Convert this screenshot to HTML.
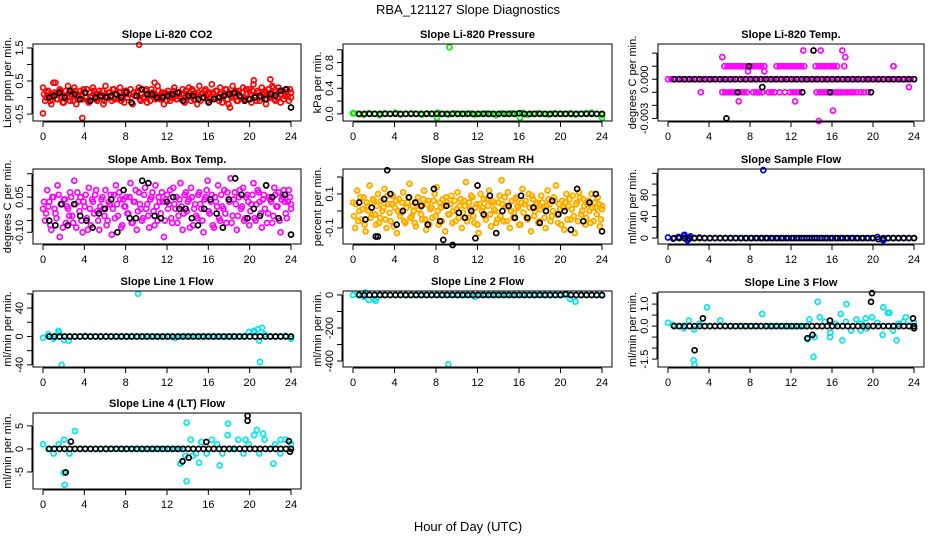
<!DOCTYPE html>
<html><head><meta charset="utf-8">
<style>
html,body{margin:0;padding:0;background:#fff;}
svg{display:block;font-family:"Liberation Sans",sans-serif;}
</style></head>
<body>
<svg id="chart" width="936" height="540" viewBox="0 0 936 540" xmlns="http://www.w3.org/2000/svg">
<rect x="0" y="0" width="936" height="540" fill="#fff"/>
<text x="468" y="14" text-anchor="middle" font-size="13">RBA_121127  Slope Diagnostics</text>
<text x="468" y="531" text-anchor="middle" font-size="13">Hour of Day (UTC)</text>
</svg>
<script>
const xTicks = [0,4,8,12,16,20,24];
const xTickLabels = ["0","4","8","12","16","20","24"];

const co2Color = [0.3,-0.1,0.15,0.05,-0.2,0.45,0.1,-0.05,0.25,0.0,-0.15,0.2,0.35,-0.1,0.1,0.3,-0.2,0.05,0.2,-0.05,0.15,0.25,-0.15,0.0,0.3,0.1,-0.1,0.2,0.05,-0.2,0.35,0.0,0.15,-0.1,0.25,0.1,-0.05,0.3,0.0,-0.15,0.2,0.1,0.25,-0.2,0.05,0.15,0.3,-0.1,0.0,0.2,-0.15,0.1,0.25,0.05,-0.05,0.35,0.0,0.15,-0.2,0.1,0.2,-0.1,0.05,0.3,-0.05,0.15,0.0,0.25,-0.15,0.1,0.3,-0.1,0.2,0.05,-0.2,0.35,0.1,0.0,0.25,-0.1,0.15,0.4,-0.05,0.2,0.0,0.3,-0.15,0.1,0.25,-0.2,0.05,0.35,0.15,-0.1,0.2,0.0,0.3,-0.05,0.1,0.25,-0.15,0.4,0.05,0.2,-0.1,0.3,0.15,-0.2,0.25,0.0,0.35,-0.05,0.1,0.3,-0.15,0.2,0.05,0.25,-0.1,0.15];
const co2Color2 = [0.1,0.0,0.2,-0.1,0.05,0.15,-0.05,0.1,0.2,-0.15,0.05,0.0,0.15,0.1,-0.1,0.2,0.05,-0.05,0.1,0.25,0.0,-0.1,0.15,0.05,0.2,-0.05,0.1,0.0,0.2,-0.1,0.05,0.15,0.0,0.25,-0.05,0.1,0.15,-0.1,0.05,0.2,0.0,0.1,-0.15,0.15,0.05,0.2,-0.05,0.1,0.0,0.25,0.05,-0.1,0.15,0.1,0.0,0.2,-0.05,0.05,0.15,-0.1,0.1,0.0,0.2,0.05,-0.05,0.15,0.1,-0.1,0.2,0.0,0.05,0.25,-0.05,0.1,0.15,-0.1,0.0,0.2,0.05,0.1,-0.05,0.15,0.0,0.2,-0.1,0.1,0.05,0.25,-0.05,0.15,0.0,0.1,0.2,-0.1,0.05,0.15,0.0,0.25,-0.05,0.1,0.2,0.05,-0.1,0.15,0.0,0.1,0.2,-0.05,0.05,0.15,0.3,-0.1,0.0,0.2,0.1,-0.05,0.15,0.05,0.25,0.0];
const co2Extra = [[9.3,1.6],[3.8,-0.62],[0,-0.48],[20.4,0.52],[22,0.55],[10.8,0.45],[18.1,-0.3],[1.2,0.45]];
const co2Black = [0.0,0.05,0.15,0.0,0.2,0.1,-0.05,0.15,-0.1,0.0,0.05,0.0,0.05,0.1,0.0,0.15,-0.15,0.05,0.25,0.1,0.1,0.0,0.0,0.05,0.1,0.15,-0.1,0.05,0.05,-0.05,0.0,-0.15,-0.05,0.0,0.05,0.1,0.15,0.05,-0.1,-0.05,0.0,0.05,-0.05,0.1,0.05,0.2,0.25,-0.3];

const presColor = [0.01,0,-0.01,0.01,0,-0.02,0.01,0,0.02,-0.01,0,0.01,0,-0.01,0.01,0,0.02,0,-0.01,0.01,0,0,0.01,-0.01,0,0.01,0,-0.02,0.01,0,0.01,0,0.02,-0.01,0,0.01,0,-0.01,0.01,0,0,0.01,-0.01,0,0.01,0.02,0,-0.01];
const presExtra = [[9.3,1.04],[8.1,-0.06],[16.1,-0.06],[24,-0.06],[0.1,0.01]];
const presBlack = [0,0,0,0,0,0,0,0,0,0,0,0,0,0,0,0,0,0,0,0,0,0,0,0,0,0,0,0,0,0,0,0.01,0,0,0,0,0,0,0,0,0,0,0,0,0,0,0,0];

const tempLevels = [0.001,-0.001];
const tempUpT = [5.5,5.8,6.1,6.4,6.7,7.0,7.3,7.6,8.2,8.5,8.8,9.1,9.4,10.6,10.9,11.2,11.5,11.8,12.1,12.4,12.7,13.0,13.3,14.4,14.7,15.0,15.3,15.6,15.9,16.2,16.5,17.2,22.0];
const tempDnT = [3.2,5.3,5.6,5.9,6.2,6.5,7.1,7.4,7.7,8.3,8.6,8.9,9.2,9.8,10.1,10.4,10.9,11.4,11.9,12.2,12.5,12.8,14.5,14.8,15.1,15.4,15.7,16.0,16.3,16.6,16.9,17.2,17.5,17.8,18.1,18.4,18.8,19.1,19.5];
const tempZeroColor = [0,0,0,0,0,0,0,0,0,0,0,0,0,0,0,0,0,0,0,0,0,0,0,0,0,0,0,0,0,0,0,0,0,0,0,0,0,0,0,0,0,0,0,0,0,0,0,0,0,0,0,0,0,0,0,0,0,0,0,0,0,0,0,0,0,0,0,0,0,0,0,0,0];
const tempExtra = [[5.3,0.0017],[7.8,0.0006],[9.4,0.0006],[13.2,0.0022],[14.9,0.0022],[17,0.0022],[17.3,0.0017],[22,0.001],[23.5,-0.0006],[6.9,-0.0017],[12.4,-0.0017],[16.1,-0.0024],[14.7,-0.0032]];
const tempBlack = [0,0,0,0,0,0,0,0,0,0,0,0,0,0,0,0,0,0,0,0,0,0,0,0,0,0,0,0,0,0,0,0,0,0,0,0,0,0,0,0,0,0,0,0,0,0,0,0];
const tempBlackExtra = [[7.9,0.001],[9.2,-0.0006],[6.8,-0.001],[13.1,-0.001],[15.8,-0.001],[19.8,-0.001],[14.2,0.0022],[5.7,-0.003]];

const ambColor = [0.0,-0.05,0.08,0.03,-0.09,0.05,-0.02,0.1,-0.12,0.02,0.04,-0.06,0.0,0.07,-0.03,0.12,-0.08,0.03,0.05,-0.1,0.01,-0.04,0.09,-0.07,0.03,0.06,-0.01,-0.09,0.04,0.0,0.08,-0.05,0.02,-0.11,0.06,0.1,-0.03,0.04,-0.07,0.01,0.05,-0.02,0.11,-0.06,0.03,-0.09,0.07,0.0,-0.04,0.09,0.02,-0.08,0.05,-0.01,0.1,-0.05,0.03,0.07,-0.12,0.04,0.0,0.08,-0.06,0.02,0.05,-0.03,0.11,-0.09,0.06,-0.01,0.04,0.09,-0.07,0.02,-0.04,0.07,0.0,-0.1,0.05,0.12,-0.02,0.06,-0.08,0.03,0.1,-0.05,0.01,0.08,-0.06,0.04,0.13,-0.03,0.07,-0.09,0.05,0.0,0.09,-0.04,0.06,-0.07,0.02,0.11,-0.05,0.08,0.03,-0.08,0.06,0.1,-0.02,0.04,-0.06,0.09,0.01,0.07,-0.1,0.05,0.03,-0.04,0.08,0.02];
const ambColor2 = [0.03,-0.02,0.01,-0.07,0.05,0.0,-0.04,0.06,0.02,-0.08,0.04,0.01,-0.03,0.05,-0.06,0.02,0.07,-0.01,-0.05,0.03,0.06,-0.09,0.0,0.04,-0.02,0.08,-0.05,0.01,0.05,-0.03,-0.07,0.03,0.06,0.0,-0.04,0.02,0.07,-0.08,0.04,0.01,-0.02,0.05,-0.06,0.03,0.08,-0.01,0.02,-0.05,0.06,0.0,-0.03,0.04,0.07,-0.07,0.01,0.05,-0.02,0.03,-0.05,0.06,0.02,-0.04,0.09,0.0,-0.06,0.04,0.01,-0.02,0.07,0.03,-0.08,0.05,0.0,-0.03,0.06,0.02,-0.05,0.04,0.08,-0.01,0.03,-0.07,0.05,0.01,-0.04,0.06,0.0,-0.02,0.07,0.03,-0.06,0.04,0.02,-0.03,0.08,0.01,-0.05,0.05,0.03,-0.01,0.06,-0.04,0.02,0.07,-0.02,0.04,0.0,-0.06,0.05,0.03,-0.03,0.06,0.01,-0.05,0.04,0.08,-0.02,0.03,0.05,0.0];
const ambBlack = [-0.05,-0.07,0.02,-0.07,0.02,-0.03,-0.05,-0.08,-0.02,0.0,0.04,-0.1,0.08,-0.04,-0.04,0.12,0.11,-0.03,-0.04,0.03,0.05,0.0,0.0,-0.04,-0.07,0.0,0.04,-0.02,-0.08,0.04,0.13,0.06,-0.04,0.0,-0.03,0.1,0.05,-0.04,0.06,-0.11];

const rhColor = [0.05,-0.1,0.12,0.0,-0.05,0.08,-0.12,0.03,0.15,-0.02,0.06,-0.08,0.1,-0.04,0.0,0.13,-0.1,0.04,-0.06,0.09,0.02,-0.13,0.07,-0.01,0.11,-0.07,0.05,0.16,-0.03,0.0,-0.09,0.08,0.03,-0.05,0.12,-0.11,0.06,0.01,-0.04,0.1,0.14,-0.08,0.02,0.07,-0.12,0.05,-0.02,0.09,0.0,-0.06,0.11,0.03,-0.1,0.06,0.17,-0.04,0.01,0.08,-0.07,0.04,-0.13,0.1,0.02,-0.03,0.07,0.12,-0.09,0.05,0.0,-0.05,0.09,0.18,-0.06,0.03,0.11,-0.1,0.06,-0.01,0.08,0.02,-0.08,0.13,0.04,-0.04,0.1,-0.12,0.07,0.0,0.05,-0.06,0.09,0.02,-0.1,0.12,0.04,-0.03,0.08,0.15,-0.07,0.01,0.06,-0.11,0.1,0.03,-0.05,0.09,-0.13,0.05,0.11,-0.02,0.07,-0.08,0.04,0.0,0.1,-0.06,0.02,0.08,-0.09,0.03];
const rhColor2 = [-0.03,0.04,-0.06,0.08,0.01,-0.08,0.05,0.0,-0.04,0.07,-0.02,0.03,-0.07,0.06,0.02,-0.05,0.09,-0.01,0.04,-0.09,0.06,0.0,-0.03,0.05,-0.06,0.02,0.08,-0.04,0.03,-0.07,0.05,0.01,-0.02,0.07,-0.05,0.04,-0.08,0.02,0.06,-0.03,0.0,0.05,-0.06,0.03,0.08,-0.02,0.04,-0.07,0.06,0.01,-0.04,0.07,-0.01,0.03,-0.06,0.05,0.09,-0.03,0.02,-0.08,0.04,0.0,0.07,-0.05,0.03,-0.02,0.06,0.01,-0.07,0.05,-0.03,0.04,0.08,-0.06,0.02,0.0,-0.04,0.07,0.03,-0.08,0.05,-0.01,0.06,-0.05,0.02,0.09,-0.03,0.04,-0.07,0.01,0.05,-0.04,0.03,0.07,-0.06,0.0,0.06,-0.02,0.04,-0.08,0.02,0.05,-0.05,0.07,0.01,-0.03,0.04,-0.06,0.08,0.0,0.03,-0.04,0.06,-0.07,0.02,0.05,-0.02,0.04,-0.05,0.01];
const rhBlack = [0.05,-0.05,0.02,-0.15,0.07,0.1,-0.08,0.0,0.08,0.05,0.03,-0.08,0.13,-0.06,0.03,-0.2,-0.01,-0.04,0.0,0.15,-0.02,0.09,-0.13,0.0,0.03,-0.04,0.09,-0.04,0.02,-0.07,0.0,0.06,-0.02,0.0,-0.11,0.13,-0.06,0.05,0.1,-0.12];
const rhBlackExtra = [[3.3,0.24],[8.7,-0.17],[11.8,-0.16],[2.2,-0.15]];

const flowColor = [1,-1,2,4,-2,0,1,0,0,0,0,0,0,0,0,0,0,0,0,0,0,0,0,0,0,0,0,0,0,0,0,0,0,0,0,0,0,0,0,0,2,-3,0,0,0,0,0,0];
const flowExtra = [[9.3,126],[1.6,6],[1.9,-4],[21,-4],[2.2,3]];
const flowBlack = [0,0,0,0,0,0,0,0,0,0,0,0,0,0,0,0,0,0,0,0,0,0,0,0,0,0,0,0,0,0,0,0,0,0,0,0,0,0,0,0,-2,0,0,0,0,0,0,0];

const line1Color = [-2,3,-3,5,-5,0,0,0,1,0,0,0,0,0,0,0,0,0,0,0,0,0,0,0,0,-2,0,0,0,0,0,0,0,0,0,0,0,0,0,6,8,-6,3,0,0,0,1,-3];
const line1Extra = [[9.2,60],[1.8,-40],[21,-36],[21.2,12],[20.8,10],[1.5,8],[20.5,6],[2.5,-6]];
const line1Black = [0,0,0,0,0,0,0,0,0,0,0,0,0,0,0,0,0,0,0,0,0,0,0,0,0,0,0,0,0,0,0,0,0,0,0,0,0,0,0,0,0,0,0,0,0,0,0,0];

const line2Color = [0,5,-10,-30,-25,0,0,0,0,0,0,0,0,0,0,0,0,0,0,0,0,0,0,-10,0,0,0,0,0,0,0,0,0,0,0,0,0,0,0,0,0,-25,-40,0,0,0,0,-5];
const line2Extra = [[9.2,-420],[2.2,-35],[1.2,15]];
const line2Black = [0,0,0,0,0,0,0,0,0,0,0,0,0,0,0,0,0,0,0,0,0,0,0,0,0,0,0,0,0,0,0,0,0,0,0,0,0,0,0,0,5,0,0,0,0,0,0,0];

const line3Color = [0.15,0.05,0.0,-0.1,0.25,-0.15,0.1,0.0,0.0,0.0,0.25,0.0,0.0,0.0,0.0,0.0,0.0,0.0,0.55,0.0,0.0,0.0,0.0,0.0,0.0,0.0,0.0,0.3,-0.5,0.4,0.2,-0.3,0.1,0.55,0.2,-0.2,0.3,0.1,-0.1,0.4,0.15,-0.4,0.6,-0.2,0.1,0.2,0.0,0.15];
const line3Extra = [[2.6,-1.75],[2.5,-1.55],[14.6,1.1],[14.2,-1.4],[3.8,0.85],[17.4,1.0],[13.6,-0.6],[15.8,-0.5],[17,-0.65],[21,0.85],[21.6,0.6],[22.3,-0.65],[23.2,0.4],[19.3,0.35],[18.8,-0.2]];
const line3Black = [0,0,0,0,0,0,0,0,0,0,0,0,0,0,0,0,0,0,0,0,0,0,0,0,0,0,0,0,0,0,0,0,0,0,0,0,0,0,0,0,0,0,0,0,0,0,0,0];
const line3BlackExtra = [[2.6,-1.1],[3.4,0.35],[13.6,-0.55],[14.1,-0.4],[15.8,0.25],[19.8,1.1],[19.9,1.5],[23.9,0.35],[24,-0.1]];

const line4Color = [1,0,-1,1,2,-1,0,0,0,0,0,0,0,0,0,0,0,0,0,0,0,0,0,0,0,0,0,-1.5,2,-1,1.5,-1,2,1,-1,3,0,2,-1,1,3,-1,2,0,1,-1,2,1];
const line4Extra = [[2.1,-7.8],[2,-5.2],[13.9,5.7],[13.9,-7],[3.1,3.9],[17.9,5.5],[13.3,-3.2],[15.1,-3],[17.1,-3.6],[20.7,4.1],[21.3,3.3],[22.3,-3.2],[23,2],[19.6,2],[14.5,-1.5]];
const line4Black = [0,0,0,0,0,0,0,0,0,0,0,0,0,0,0,0,0,0,0,0,0,0,0,0,0,0,0,0,0,0,0,0,0,0,0,0,0,0,0,0,0,0,0,0,0,0,0,0];
const line4BlackExtra = [[2.2,-5.1],[2.7,1.6],[13.5,-2.7],[14.1,-1.9],[15.8,1.5],[19.8,6.1],[19.8,7.2],[23.8,1.7],[23.9,-0.6]];

const panels = [
 {name:"co2",title:"Slope Li-820 CO2",ylab:"Licor ppm per min.",color:"#ff0000",box:[33,44,301,121],ymin:-0.71,ymax:1.62,ticks:[-0.5,0,0.5,1,1.5],labels:["-0.5","","0.5","","1.5"],series:[co2Color,co2Color2],extra:co2Extra,black:co2Black,blackExtra:[]},
 {name:"pressure",title:"Slope Li-820 Pressure",ylab:"kPa per min.",color:"#00ee00",box:[343,44,612,121],ymin:-0.11,ymax:1.09,ticks:[0,0.2,0.4,0.6,0.8,1.0],labels:["0.0","","0.4","","0.8",""],series:[presColor],extra:presExtra,black:presBlack,blackExtra:[]},
 {name:"temp",title:"Slope Li-820 Temp.",ylab:"degrees C per min.",color:"#ff00ff",box:[658,44,924,121],ymin:-0.0032,ymax:0.0027,ticks:[-0.003,-0.002,-0.001,0,0.001,0.002],labels:["-0.003","","","0.000","",""],series:[tempZeroColor],extra:tempExtra,black:tempBlack,blackExtra:tempBlackExtra,levels:true},
 {name:"amb-box",title:"Slope Amb. Box Temp.",ylab:"degrees C per min.",color:"#ff00ff",box:[33,169,301,244],ymin:-0.15,ymax:0.17,ticks:[-0.1,-0.05,0,0.05,0.1,0.15],labels:["-0.10","","","0.05","",""],series:[ambColor,ambColor2],extra:[],black:ambBlack,blackExtra:[]},
 {name:"rh",title:"Slope Gas Stream RH",ylab:"percent per min.",color:"#ffa500",fill:"rgba(255,230,0,0.5)",box:[343,169,612,244],ymin:-0.194,ymax:0.247,ticks:[-0.1,0,0.1,0.2],labels:["-0.1","","0.1",""],series:[rhColor,rhColor2],extra:[],black:rhBlack,blackExtra:rhBlackExtra},
 {name:"sample-flow",title:"Slope Sample Flow",ylab:"ml/min per min.",color:"#0000ff",box:[658,169,924,244],ymin:-11,ymax:128,ticks:[0,20,40,60,80,100,120],labels:["0","","40","","80","",""],series:[flowColor],extra:flowExtra,black:flowBlack,blackExtra:[]},
 {name:"line1-flow",title:"Slope Line 1 Flow",ylab:"ml/min per min.",color:"#00e5ee",box:[33,291,301,367],ymin:-43,ymax:64,ticks:[-40,-20,0,20,40,60],labels:["-40","","0","","40",""],series:[line1Color],extra:line1Extra,black:line1Black,blackExtra:[]},
 {name:"line2-flow",title:"Slope Line 2 Flow",ylab:"ml/min per min.",color:"#00e5ee",box:[343,291,612,367],ymin:-436,ymax:24,ticks:[-400,-300,-200,-100,0],labels:["-400","","-200","","0"],series:[line2Color],extra:line2Extra,black:line2Black,blackExtra:[]},
 {name:"line3-flow",title:"Slope Line 3 Flow",ylab:"ml/min per min.",color:"#00e5ee",box:[658,292,924,367],ymin:-1.86,ymax:1.55,ticks:[-1.5,-1,-0.5,0,0.5,1,1.5],labels:["-1.5","","","0.0","","1.0",""],series:[line3Color],extra:line3Extra,black:line3Black,blackExtra:line3BlackExtra},
 {name:"line4-flow",title:"Slope Line 4 (LT) Flow",ylab:"ml/min per min.",color:"#00e5ee",box:[33,413,301,489],ymin:-8.7,ymax:7.8,ticks:[-5,0,5],labels:["-5","0","5"],series:[line4Color],extra:line4Extra,black:line4Black,blackExtra:line4BlackExtra}
];

const NS="http://www.w3.org/2000/svg";
const svg=document.getElementById('chart');
function mk(tag,attrs,parent){const e=document.createElementNS(NS,tag);for(const k in attrs)e.setAttribute(k,attrs[k]);parent.appendChild(e);return e;}

panels.forEach(p=>{
  const [x0,y0,x1,y1]=p.box;
  const g=mk('g',{},svg);
  
  
  const xs=t=>x0+10+(t/24)*(x1-x0-20);
  const ys=v=>y1-(v-p.ymin)/(p.ymax-p.ymin)*(y1-y0);
  const t=mk('text',{x:(x0+x1)/2,y:y0-6,'text-anchor':'middle','font-size':11,'font-weight':'bold'},g);
  t.textContent=p.title;
  
  
  const yl=mk('text',{x:x0-22,y:(y0+y1)/2,'text-anchor':'middle','font-size':11,transform:`rotate(-90 ${x0-22} ${(y0+y1)/2})`},g);
  yl.textContent=p.ylab;
  
  
  const plot=mk('g',{},g);
  
  
  const dot=(tt,v,col,fill)=>{
    const c=mk('circle',{cx:xs(tt).toFixed(1),cy:ys(v).toFixed(1),r:2.5,fill:fill||'none',stroke:col,'stroke-width':1.7},plot);
    
    
  };
  p.series.forEach((arr,si)=>{
    const n=arr.length;
    arr.forEach((v,i)=>{let tt=24*(i+(si?0.5:0))/(n-1); if(tt>24)tt=24; dot(tt,v,p.color,p.fill);});
  });
  if(p.levels){
    tempUpT.forEach(tt=>dot(tt,tempLevels[0],p.color));
    tempDnT.forEach(tt=>dot(tt,tempLevels[1],p.color));
  }
  p.extra.forEach(d=>dot(d[0],d[1],p.color,p.fill));
  const nb=p.black.length;
  p.black.forEach((v,i)=>dot(0.6+23.4*i/(nb-1),v,'#000'));
  p.blackExtra.forEach(d=>dot(d[0],d[1],'#000'));
  const b=mk('rect',{x:x0,y:y0,width:x1-x0,height:y1-y0,fill:'none',stroke:'#000','stroke-width':1},g);
  
  
  const ya=mk('g',{},g);
  
  
  mk('line',{x1:x0-1,x2:x0-1,y1:ys(p.ticks[0]),y2:ys(p.ticks[p.ticks.length-1]),stroke:'#000'},ya);
  p.ticks.forEach((tv,i)=>{
    const y=ys(tv);
    mk('line',{x1:x0-6,x2:x0-1,y1:y,y2:y,stroke:'#000'},ya);
    if(p.labels[i]){
      const lt=mk('text',{x:x0-10,y:y,'text-anchor':'middle','font-size':11,transform:`rotate(-90 ${x0-10} ${y})`},ya);
      lt.textContent=p.labels[i];
      
      
    }
  });
  const xa=mk('g',{},g);
  
  
  mk('line',{x1:xs(0),x2:xs(24),y1:y1+1,y2:y1+1,stroke:'#000'},xa);
  xTicks.forEach((tv,i)=>{
    const x=xs(tv);
    mk('line',{x1:x,x2:x,y1:y1+1,y2:y1+6,stroke:'#000'},xa);
    const lt=mk('text',{x:x,y:y1+19,'text-anchor':'middle','font-size':11},xa);
    lt.textContent=xTickLabels[i];
    
    
  });
});
</script>
</body></html>
